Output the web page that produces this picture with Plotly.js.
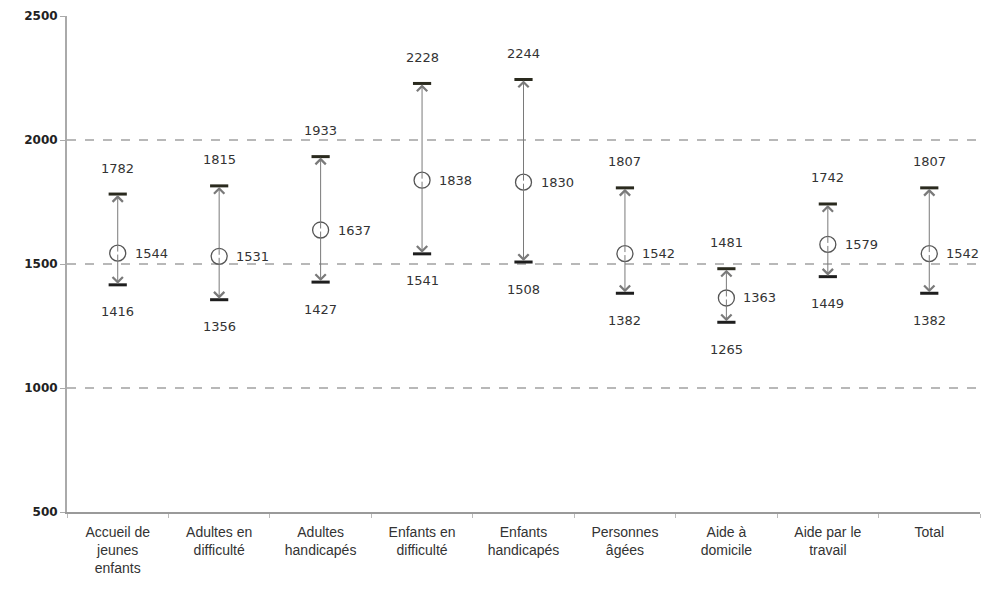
<!DOCTYPE html>
<html>
<head>
<meta charset="utf-8">
<script src="https://cdn.plot.ly/plotly-3.0.1.min.js"></script>
<style>html,body{margin:0;padding:0;background:#fff;}#chart{width:996px;height:595px;}</style>
</head>
<body>
<div id="chart"></div>
<script>
const categories = ["Accueil de<br>jeunes<br>enfants", "Adultes en<br>difficulté", "Adultes<br>handicapés", "Enfants en<br>difficulté", "Enfants<br>handicapés", "Personnes<br>âgées", "Aide à<br>domicile", "Aide par le<br>travail", "Total"];
const upperValues = [1782, 1815, 1933, 2228, 2244, 1807, 1481, 1742, 1807];
const meanValues  = [1544, 1531, 1637, 1838, 1830, 1542, 1363, 1579, 1542];
const lowerValues = [1416, 1356, 1427, 1541, 1508, 1382, 1265, 1449, 1382];
const yTicks = [500, 1000, 1500, 2000, 2500];

const numFont = {family: "DejaVu Sans", size: 13, color: "#333"};
const annotations = [];
categories.forEach((c, i) => {
  annotations.push({x: c, y: upperValues[i], ax: c, ay: meanValues[i], axref: "x", ayref: "y", xref: "x", yref: "y",
    text: "", showarrow: true, arrowhead: 4, arrowsize: 2, arrowwidth: 1, arrowcolor: "#7a7a7a", standoff: 1, startstandoff: 0});
  annotations.push({x: c, y: lowerValues[i], ax: c, ay: meanValues[i], axref: "x", ayref: "y", xref: "x", yref: "y",
    text: "", showarrow: true, arrowhead: 4, arrowsize: 2, arrowwidth: 1, arrowcolor: "#7a7a7a", standoff: 1, startstandoff: 0});
  annotations.push({x: c, y: upperValues[i], text: String(upperValues[i]), showarrow: false, yshift: 26, font: numFont});
  annotations.push({x: c, y: lowerValues[i], text: String(lowerValues[i]), showarrow: false, yshift: -27, font: numFont});
  annotations.push({x: c, y: meanValues[i], text: String(meanValues[i]), showarrow: false, xanchor: "left", xshift: 15, font: numFont});
});

const traces = [
  {type: "scatter", mode: "markers", x: categories, y: upperValues, hoverinfo: "skip",
   marker: {symbol: "line-ew", size: 13, color: "#2a2a1e", line: {width: 3, color: "#2a2a1e"}}},
  {type: "scatter", mode: "markers", x: categories, y: lowerValues, hoverinfo: "skip",
   marker: {symbol: "line-ew", size: 13, color: "#1e1e1e", line: {width: 3, color: "#1e1e1e"}}},
  {type: "scatter", mode: "markers", x: categories, y: meanValues, hoverinfo: "skip",
   marker: {symbol: "circle-open", size: 16, color: "#555", line: {width: 1.3, color: "#555"}}}
];

const layout = {
  width: 996, height: 595,
  margin: {l: 67, r: 16, t: 16, b: 83},
  paper_bgcolor: "#fff", plot_bgcolor: "#fff",
  showlegend: false,
  font: {family: "Liberation Sans", size: 14, color: "#333"},
  xaxis: {type: "category", showgrid: false, showline: true, linecolor: "#9a9a9a", linewidth: 2,
          ticks: "outside", tickson: "boundaries", ticklen: 4, tickcolor: "#bbb", ticklabelstandoff: 6,
          tickfont: {family: "Liberation Sans", size: 14, color: "#333"}, range: [-0.5, 8.5], fixedrange: true},
  yaxis: {range: [500, 2500], tickvals: yTicks, ticktext: yTicks.map(String), showgrid: true, gridcolor: "#b8b8b8",
          griddash: "dash", gridwidth: 1.5, showline: true, linecolor: "#aaa", linewidth: 2, zeroline: false,
          ticks: "outside", ticklen: 5, tickcolor: "#aaa",
          tickfont: {family: "DejaVu Sans", size: 12, color: "#222", weight: "bold"}},
  annotations: annotations
};
Plotly.newPlot("chart", traces, layout, {displayModeBar: false, staticPlot: true});
</script>
</body>
</html>
